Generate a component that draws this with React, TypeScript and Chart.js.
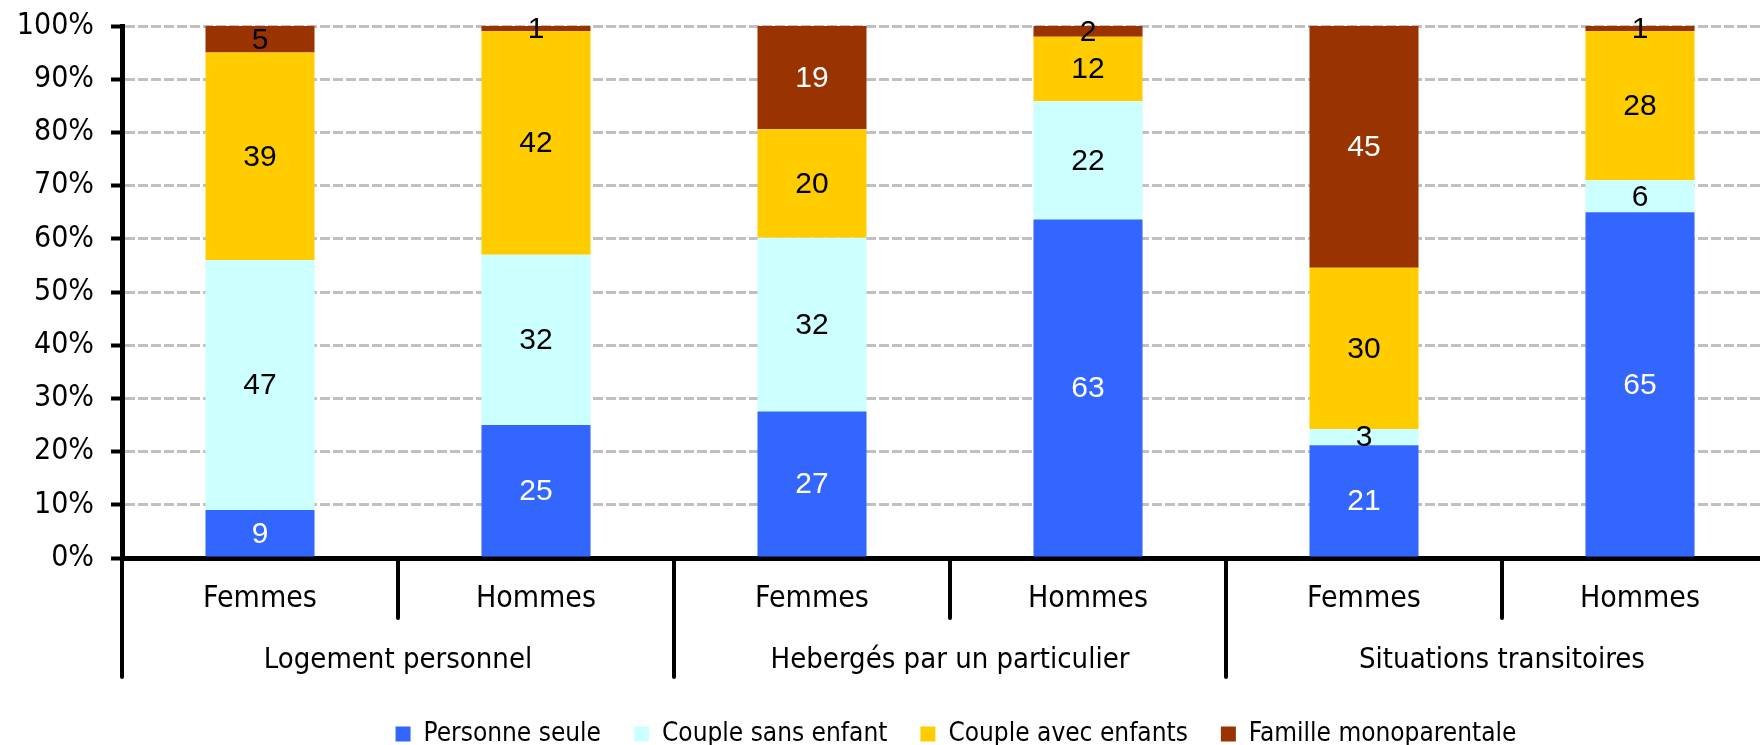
import React, { useEffect, useRef } from 'react';
import { Chart, registerables } from 'chart.js';

Chart.register(...registerables);

const categories = ['Femmes', 'Hommes', 'Femmes', 'Hommes', 'Femmes', 'Hommes'];
const groups = ['Logement personnel', 'Hebergés par un particulier', 'Situations transitoires'];
const seriesNames = ['Personne seule', 'Couple sans enfant', 'Couple avec enfants', 'Famille monoparentale'];
const personneSeule = [9, 25, 27, 63, 21, 65];
const coupleSansEnfant = [47, 32, 32, 22, 3, 6];
const coupleAvecEnfants = [39, 42, 20, 12, 30, 28];
const familleMonoparentale = [5, 1, 19, 2, 45, 1];
const seriesColors = ['#3366FF', '#CCFFFF', '#FFCC00', '#993300'];
const yTickValues = [0, 10, 20, 30, 40, 50, 60, 70, 80, 90, 100];

const COND = "'DejaVu Sans Condensed', 'DejaVu Sans', sans-serif";
const ARIAL = "'Liberation Sans', Arial, sans-serif";

export default function App() {
  const ref = useRef<HTMLCanvasElement>(null);

  useEffect(() => {
    const canvas = ref.current;
    if (!canvas) return;
    const seriesValues = [personneSeule, coupleSansEnfant, coupleAvecEnfants, familleMonoparentale];
    const totals = categories.map((_, j) => seriesValues.reduce((s, arr) => s + arr[j], 0));
    const datasets = seriesValues.map((arr, i) => ({
      label: seriesNames[i],
      data: arr.map((v, j) => (v / totals[j]) * 100),
      backgroundColor: seriesColors[i],
      borderWidth: 0,
      categoryPercentage: 1,
      barPercentage: 0.395,
      stack: 's',
    }));

    const dataLabels = {
      id: 'dataLabels',
      afterDatasetsDraw(chart: any) {
        const ctx = chart.ctx;
        ctx.save();
        ctx.font = `30px ${ARIAL}`;
        ctx.textAlign = 'center';
        ctx.textBaseline = 'middle';
        seriesValues.forEach((arr, i) => {
          const meta = chart.getDatasetMeta(i);
          meta.data.forEach((bar: any, j: number) => {
            const p = bar.getProps(['x', 'y', 'base'], true);
            const v = arr[j];
            let color = '#000';
            if (i === 0) color = '#fff';
            if (i === 3 && v >= 10) color = '#fff';
            ctx.fillStyle = color;
            ctx.fillText(String(v), p.x, (p.y + p.base) / 2 + 1);
          });
        });
        ctx.restore();
      },
    };

    const axisDecor = {
      id: 'axisDecor',
      afterDraw(chart: any) {
        const ctx = chart.ctx;
        const xs = chart.scales.x;
        const w = xs.getPixelForValue(1) - xs.getPixelForValue(0);
        const top = xs.top;
        ctx.save();
        ctx.strokeStyle = '#000';
        ctx.lineWidth = 4;
        ctx.lineCap = 'round';
        for (let i = 0; i <= categories.length; i++) {
          const px = i < categories.length ? xs.getPixelForValue(i) - w / 2 : xs.getPixelForValue(categories.length - 1) + w / 2;
          const bottom = i % 2 === 0 ? top + 119 : top + 60;
          ctx.beginPath();
          ctx.moveTo(px, top);
          ctx.lineTo(px, bottom);
          ctx.stroke();
        }
        ctx.fillStyle = '#000';
        ctx.font = `29px ${COND}`;
        ctx.textAlign = 'center';
        ctx.textBaseline = 'alphabetic';
        groups.forEach((g, k) => {
          const cx = (xs.getPixelForValue(2 * k) + xs.getPixelForValue(2 * k + 1)) / 2;
          ctx.fillText(g, cx, top + 110);
        });
        ctx.restore();
      },
    };

    const legendShift = {
      id: 'legendShift',
      afterLayout(chart: any) {
        const lg = chart.legend;
        if (lg) {
          lg.left += 6;
          lg.right += 6;
          lg.top += 12;
          lg.bottom += 12;
        }
      },
    };

    const chart = new Chart(canvas, {
      type: 'bar',
      data: { labels: categories, datasets },
      options: {
        responsive: false,
        animation: false,
        devicePixelRatio: 1,
        layout: { padding: { top: 26, right: 22, left: 0, bottom: 0 } },
        plugins: {
          tooltip: { enabled: false },
          legend: {
            position: 'bottom',
            fullSize: false,
            labels: {
              boxWidth: 15,
              boxHeight: 15,
              padding: 33,
              color: '#000',
              font: { family: COND, size: 26 },
            },
          },
        },
        scales: {
          x: {
            stacked: true,
            offset: true,
            grid: { display: false, drawTicks: false },
            border: { display: true, color: '#000', width: 5 },
            ticks: {
              color: '#000',
              font: { family: COND, size: 30 },
              padding: 23,
              maxRotation: 0,
              autoSkip: false,
            },
            afterFit(s: any) {
              s.height = 118;
              s.paddingLeft = 0;
              s.paddingRight = 0;
            },
          },
          y: {
            stacked: true,
            min: 0,
            max: 100,
            afterBuildTicks(s: any) {
              s.ticks = yTickValues.map((v) => ({ value: v }));
            },
            ticks: {
              color: '#000',
              font: { family: COND, size: 30 },
              padding: 17,
              callback: (v: any) => v + '%',
            },
            grid: {
              color: '#c0c0c0',
              lineWidth: 3,
              tickColor: '#000',
              tickWidth: 4,
              tickLength: 11,
              tickBorderDash: [],
            },
            border: { display: true, color: '#000', width: 5, dash: [10, 3] },
            afterFit(s: any) {
              s.width = 122;
              s.paddingTop = 0;
              s.paddingBottom = 0;
            },
          },
        },
      },
      plugins: [dataLabels, axisDecor, legendShift],
    } as any);

    return () => chart.destroy();
  }, []);

  return (
    <div style={{ position: 'fixed', left: 0, top: 0, width: 1760, height: 745, overflow: 'hidden', background: '#fff' }}>
      <canvas ref={ref} width={1800} height={745} style={{ display: 'block', width: 1800, height: 745 }} />
    </div>
  );
}
